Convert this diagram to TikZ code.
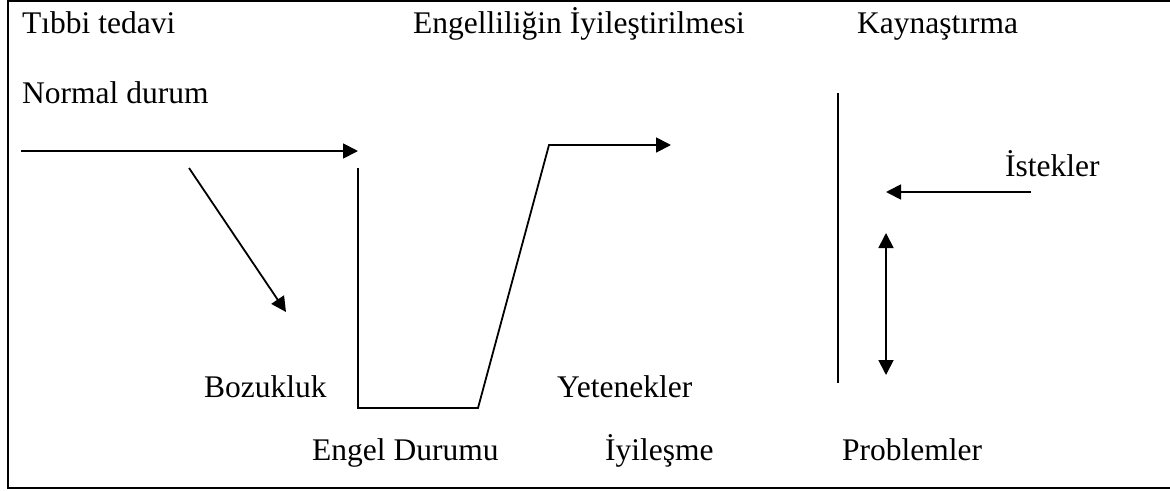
\documentclass[tikz,border=0pt]{standalone}
\usepackage{fontspec}
\setmainfont{Liberation Serif}
\usetikzlibrary{arrows.meta}
\tikzset{
  lbl/.style  = {anchor=base west, inner sep=0pt,
                 font=\fontsize{31.5}{38}\selectfont},
  ln/.style   = {line width=1.8pt, line join=miter},
  arr/.style  = {ln, -{Triangle[length=15pt, width=15pt]}},
  darr/.style = {ln, {Triangle[length=15pt, width=15pt]}-{Triangle[length=15pt, width=15pt]}}
}
\begin{document}
\begin{tikzpicture}[x=1pt, y=-1pt]
  \useasboundingbox (0,0) rectangle (1170,490);
  % frame
  \draw[line width=2pt] (7.5,1) rectangle (1180,488);

  % labels
  \node[lbl] (tedavi)   at (22,33)   {Tıbbi tedavi};
  \node[lbl] (iyilestir) at (413,33) {Engelliliğin İyileştirilmesi};
  \node[lbl] (kaynas)   at (857,33)  {Kaynaştırma};
  \node[lbl] (normal)   at (22,103)  {Normal durum};
  \node[lbl] (istek)    at (1005,176) {İstekler};
  \node[lbl] (bozuk)    at (204,397) {Bozukluk};
  \node[lbl] (yetenek)  at (557,397) {Yetenekler};
  \node[lbl] (engel)    at (312,460) {Engel Durumu};
  \node[lbl] (iyiles)   at (605,460) {İyileşme};
  \node[lbl] (problem)  at (842,460) {Problemler};

  % curve points
  \coordinate (n0) at (21,151);
  \coordinate (n1) at (358,151);
  \coordinate (d0) at (189,168);
  \coordinate (d1) at (286,312);
  \coordinate (c0) at (358,168);
  \coordinate (c1) at (358,408);
  \coordinate (c2) at (478,408);
  \coordinate (c3) at (549,145);
  \coordinate (c4) at (671,145);
  \coordinate (w0) at (838,93);
  \coordinate (w1) at (838,383);
  \coordinate (i0) at (1031,192);
  \coordinate (i1) at (886,192);
  \coordinate (p0) at (886,233);
  \coordinate (p1) at (886,375);

  \draw[arr] (n0) -- (n1);
  \draw[arr] (d0) -- (d1);
  \draw[arr] (c0) -- (c1) -- (c2) -- (c3) -- (c4);
  \draw[ln]  (w0) -- (w1);
  \draw[arr] (i0) -- (i1);
  \draw[darr] (p0) -- (p1);
\end{tikzpicture}
\end{document}
